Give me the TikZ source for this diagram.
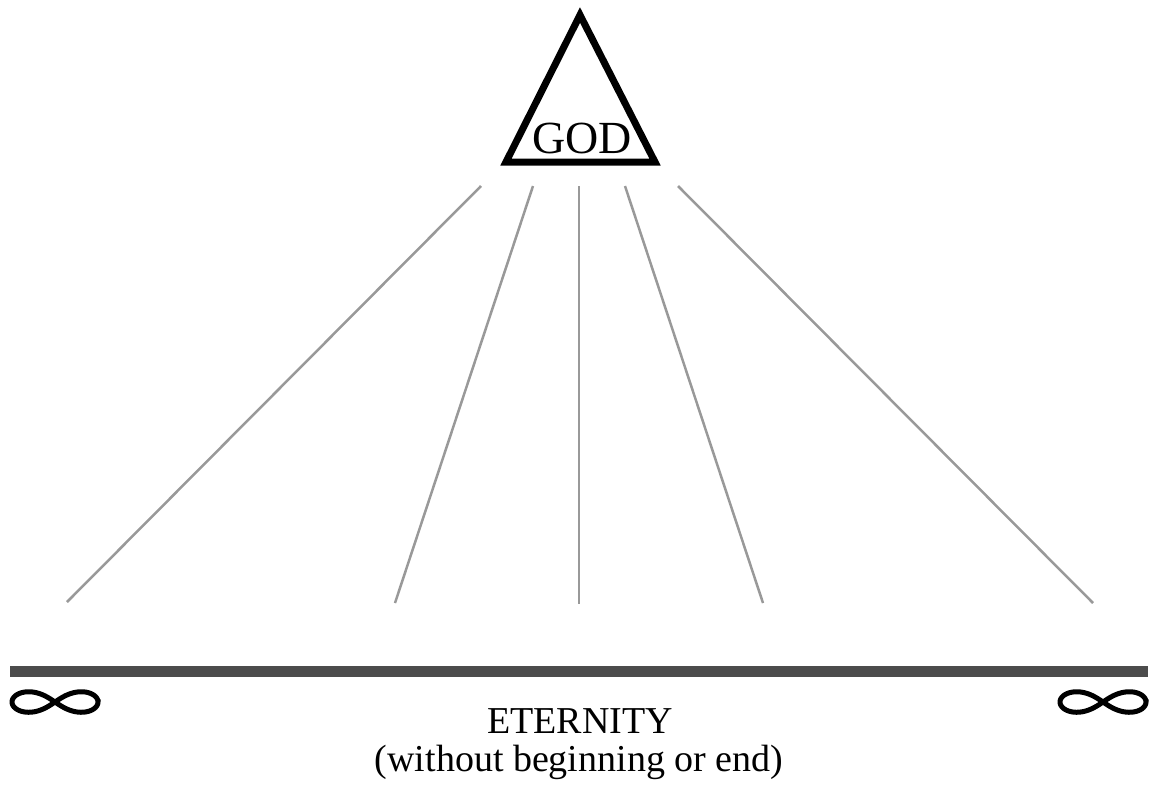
\documentclass[tikz,border=0pt]{standalone}
\usepackage{fontspec}
\setmainfont{Liberation Serif}
\begin{document}
\begin{tikzpicture}[x=1pt,y=-1pt,
  ray/.style={draw=black!40,line width=2.5pt},
  inf/.style={draw=black,line width=5pt},
  lbl/.style={inner sep=0pt,font=\fontsize{38}{44}\selectfont}]
\useasboundingbox (0,0) rectangle (1153,785);
% triangle
\draw[line width=7pt,line join=miter] (580,15) -- (655,162) -- (506,162) -- cycle;
\node[inner sep=0pt,anchor=base,font=\fontsize{46}{52}\selectfont] (god) at (582,153) {GOD};
% rays
\coordinate (t1) at (481,186); \coordinate (b1) at (67,602);
\coordinate (t2) at (533,186); \coordinate (b2) at (395,603);
\coordinate (t3) at (579,186); \coordinate (b3) at (579,604);
\coordinate (t4) at (625,186); \coordinate (b4) at (763,603);
\coordinate (t5) at (678,186); \coordinate (b5) at (1093,603);
\foreach \i in {1,...,5} \draw[ray] (t\i) -- (b\i);
% bar
\coordinate (bl) at (10,671); \coordinate (br) at (1148,671);
\draw[draw=black!70,line width=11pt] (bl) -- (br);
% infinity signs
\foreach \cx in {55,1103}
  \draw[inf,shift={(\cx,702)},variable=\t,samples=120,smooth,domain=0:360]
    plot ({43*cos(\t)/(1+sin(\t)^2)},{29*sin(\t)*cos(\t)/(1+sin(\t)^2)}) -- cycle;
% labels
\node[lbl,anchor=base] (et) at (580,733) {ETERNITY};
\node[lbl,anchor=base] (sub) at (579,771) {(without beginning or end)};
\end{tikzpicture}
\end{document}
